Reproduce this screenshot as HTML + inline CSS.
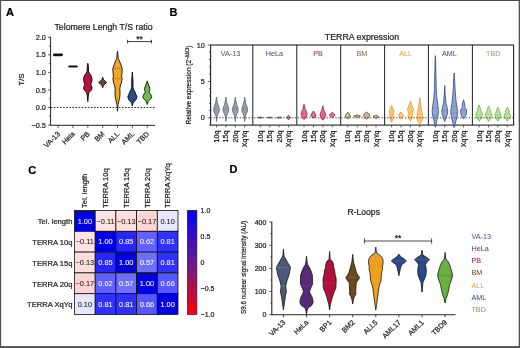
<!DOCTYPE html><html><head><meta charset="utf-8"><style>html,body{margin:0;padding:0;background:#fff;}svg{display:block;will-change:transform;}text{font-family:"Liberation Sans", sans-serif;}</style></head><body>
<svg width="520" height="348" viewBox="0 0 520 348">
<rect x="0" y="0" width="520" height="348" fill="#fff"/>
<rect x="0" y="0" width="1.1" height="348" fill="#505050"/><rect x="0" y="0" width="520" height="1.0" fill="#505050"/><rect x="518.7" y="0" width="1.3" height="348" fill="#505050"/><rect x="0" y="346.1" width="520" height="1.9" fill="#505050"/>
<text x="6.0" y="15.6" font-size="11" fill="#000" text-anchor="start" font-weight="bold"  stroke="#000" stroke-width="0.22">A</text>
<text x="169.4" y="15.9" font-size="11" fill="#000" text-anchor="start" font-weight="bold"  stroke="#000" stroke-width="0.22">B</text>
<text x="28.3" y="173.6" font-size="11" fill="#000" text-anchor="start" font-weight="bold"  stroke="#000" stroke-width="0.22">C</text>
<text x="229.4" y="173.3" font-size="11" fill="#000" text-anchor="start" font-weight="bold"  stroke="#000" stroke-width="0.22">D</text>
<text x="103.5" y="30.2" font-size="8.75" fill="#222" text-anchor="middle" font-weight="normal"  stroke="#222" stroke-width="0.22">Telomere Lengh T/S ratio</text>
<line x1="50.6" y1="36.8" x2="50.6" y2="125.6" stroke="#222" stroke-width="1"/>
<line x1="50.6" y1="125.3" x2="155" y2="125.3" stroke="#222" stroke-width="1"/>
<line x1="48.1" y1="37.30" x2="50.6" y2="37.30" stroke="#222" stroke-width="0.8"/>
<text x="45.9" y="39.9" font-size="7.3" fill="#222" text-anchor="end" font-weight="normal"  stroke="#222" stroke-width="0.22">2.0</text>
<line x1="48.1" y1="54.85" x2="50.6" y2="54.85" stroke="#222" stroke-width="0.8"/>
<text x="45.9" y="57.449999999999996" font-size="7.3" fill="#222" text-anchor="end" font-weight="normal"  stroke="#222" stroke-width="0.22">1.5</text>
<line x1="48.1" y1="72.40" x2="50.6" y2="72.40" stroke="#222" stroke-width="0.8"/>
<text x="45.9" y="75.0" font-size="7.3" fill="#222" text-anchor="end" font-weight="normal"  stroke="#222" stroke-width="0.22">1.0</text>
<line x1="48.1" y1="89.95" x2="50.6" y2="89.95" stroke="#222" stroke-width="0.8"/>
<text x="45.9" y="92.55" font-size="7.3" fill="#222" text-anchor="end" font-weight="normal"  stroke="#222" stroke-width="0.22">0.5</text>
<line x1="48.1" y1="107.50" x2="50.6" y2="107.50" stroke="#222" stroke-width="0.8"/>
<text x="45.9" y="110.1" font-size="7.3" fill="#222" text-anchor="end" font-weight="normal"  stroke="#222" stroke-width="0.22">0.0</text>
<line x1="48.1" y1="125.05" x2="50.6" y2="125.05" stroke="#222" stroke-width="0.8"/>
<text x="45.9" y="127.64999999999999" font-size="7.3" fill="#222" text-anchor="end" font-weight="normal"  stroke="#222" stroke-width="0.22">&#8722;0.5</text>
<line x1="49.1" y1="46.07" x2="50.6" y2="46.07" stroke="#222" stroke-width="0.7"/>
<line x1="49.1" y1="63.62" x2="50.6" y2="63.62" stroke="#222" stroke-width="0.7"/>
<line x1="49.1" y1="81.17" x2="50.6" y2="81.17" stroke="#222" stroke-width="0.7"/>
<line x1="49.1" y1="98.72" x2="50.6" y2="98.72" stroke="#222" stroke-width="0.7"/>
<line x1="49.1" y1="116.28" x2="50.6" y2="116.28" stroke="#222" stroke-width="0.7"/>
<text x="0" y="0" font-size="8" fill="#222" text-anchor="middle" transform="translate(23.6,79.6) rotate(-90)" stroke="#222" stroke-width="0.22">T/S</text>
<line x1="50.6" y1="107.50" x2="155" y2="107.50" stroke="#222" stroke-width="0.9" stroke-dasharray="1.7,1.4"/>
<line x1="58.10" y1="125.3" x2="58.10" y2="127.8" stroke="#222" stroke-width="0.8"/>
<text x="0" y="0" font-size="7.2" fill="#222" text-anchor="end" transform="translate(60.50,134.5) rotate(-45)" stroke="#222" stroke-width="0.22">VA-13</text>
<line x1="72.95" y1="125.3" x2="72.95" y2="127.8" stroke="#222" stroke-width="0.8"/>
<text x="0" y="0" font-size="7.2" fill="#222" text-anchor="end" transform="translate(75.35,134.5) rotate(-45)" stroke="#222" stroke-width="0.22">Hela</text>
<line x1="87.80" y1="125.3" x2="87.80" y2="127.8" stroke="#222" stroke-width="0.8"/>
<text x="0" y="0" font-size="7.2" fill="#222" text-anchor="end" transform="translate(90.20,134.5) rotate(-45)" stroke="#222" stroke-width="0.22">PB</text>
<line x1="102.65" y1="125.3" x2="102.65" y2="127.8" stroke="#222" stroke-width="0.8"/>
<text x="0" y="0" font-size="7.2" fill="#222" text-anchor="end" transform="translate(105.05,134.5) rotate(-45)" stroke="#222" stroke-width="0.22">BM</text>
<line x1="117.50" y1="125.3" x2="117.50" y2="127.8" stroke="#222" stroke-width="0.8"/>
<text x="0" y="0" font-size="7.2" fill="#222" text-anchor="end" transform="translate(119.90,134.5) rotate(-45)" stroke="#222" stroke-width="0.22">ALL</text>
<line x1="132.35" y1="125.3" x2="132.35" y2="127.8" stroke="#222" stroke-width="0.8"/>
<text x="0" y="0" font-size="7.2" fill="#222" text-anchor="end" transform="translate(134.75,134.5) rotate(-45)" stroke="#222" stroke-width="0.22">AML</text>
<line x1="147.20" y1="125.3" x2="147.20" y2="127.8" stroke="#222" stroke-width="0.8"/>
<text x="0" y="0" font-size="7.2" fill="#222" text-anchor="end" transform="translate(149.60,134.5) rotate(-45)" stroke="#222" stroke-width="0.22">TBD</text>
<rect x="53" y="53.5" width="9.9" height="2.7" rx="1.3" fill="#151515"/>
<rect x="68.2" y="65.4" width="9.6" height="2.2" rx="1.1" fill="#151515"/>
<path d="M87.80,63.30 L88.30,66.00 L88.60,72.00 L90.00,74.00 L91.30,76.00 L92.10,79.20 L91.60,82.00 L90.80,84.50 L92.10,87.80 L91.40,90.00 L89.00,92.40 L88.40,95.00 L87.80,101.60 L87.80,101.60 L87.20,95.00 L86.60,92.40 L84.20,90.00 L83.50,87.80 L84.80,84.50 L84.00,82.00 L83.50,79.20 L84.30,76.00 L85.60,74.00 L87.00,72.00 L87.30,66.00 L87.80,63.30Z" fill="#b5123c" stroke="#1a0508" stroke-width="0.95" stroke-linejoin="round"/>
<path d="M102.65,77.20 L103.45,79.50 L104.85,81.00 L106.65,82.50 L104.85,84.00 L103.45,85.50 L102.65,87.80 L102.65,87.80 L101.85,85.50 L100.45,84.00 L98.65,82.50 L100.45,81.00 L101.85,79.50 L102.65,77.20Z" fill="#5e4c2c" stroke="#151008" stroke-width="0.95" stroke-linejoin="round"/>
<path d="M117.50,51.00 L118.00,55.00 L118.20,58.50 L119.50,61.00 L120.90,65.00 L122.20,68.70 L122.00,72.00 L121.60,76.40 L122.10,79.30 L121.30,83.00 L120.30,86.00 L119.80,88.80 L120.00,92.00 L119.90,96.00 L119.10,100.00 L118.00,104.80 L117.50,111.20 L117.50,111.20 L117.00,104.80 L115.90,100.00 L115.10,96.00 L115.00,92.00 L115.20,88.80 L114.70,86.00 L113.70,83.00 L112.90,79.30 L113.40,76.40 L113.00,72.00 L112.80,68.70 L114.10,65.00 L115.50,61.00 L116.80,58.50 L117.00,55.00 L117.50,51.00Z" fill="#f2a52a" stroke="#2a1a08" stroke-width="0.95" stroke-linejoin="round"/>
<line x1="113.00" y1="68.3" x2="122.00" y2="68.3" stroke="#3a2a10" stroke-width="0.5" stroke-dasharray="1,1"/>
<line x1="113.00" y1="78.8" x2="122.00" y2="78.8" stroke="#3a2a10" stroke-width="0.5" stroke-dasharray="1,1"/>
<path d="M132.35,72.00 L132.95,80.00 L133.05,87.80 L133.85,90.00 L134.95,92.00 L135.95,94.50 L136.85,96.50 L136.35,99.00 L135.35,100.50 L133.55,102.00 L132.95,103.50 L132.35,105.90 L132.35,105.90 L131.75,103.50 L131.15,102.00 L129.35,100.50 L128.35,99.00 L127.85,96.50 L128.75,94.50 L129.75,92.00 L130.85,90.00 L131.65,87.80 L131.75,80.00 L132.35,72.00Z" fill="#2d4a86" stroke="#0a1020" stroke-width="0.95" stroke-linejoin="round"/>
<path d="M147.20,80.90 L147.70,83.00 L148.70,85.00 L149.80,88.40 L149.60,90.50 L149.20,92.40 L150.40,94.00 L151.70,96.40 L151.00,98.50 L149.00,100.50 L147.90,101.80 L147.20,104.50 L147.20,104.50 L146.50,101.80 L145.40,100.50 L143.40,98.50 L142.70,96.40 L144.00,94.00 L145.20,92.40 L144.80,90.50 L144.60,88.40 L145.70,85.00 L146.70,83.00 L147.20,80.90Z" fill="#72b84e" stroke="#10200a" stroke-width="0.95" stroke-linejoin="round"/>
<path d="M127.6,39.8 V43.4 M127.6,41.6 H151.4 M151.4,39.8 V43.4" stroke="#222" stroke-width="0.9" fill="none"/>
<text x="139.6" y="41.6" font-size="8.5" fill="#222" text-anchor="middle" font-weight="normal"  stroke="#222" stroke-width="0.22">**</text>
<text x="362" y="39.6" font-size="8.8" fill="#222" text-anchor="middle" font-weight="normal"  stroke="#222" stroke-width="0.22">TERRA expression</text>
<rect x="210.6" y="45" width="303.0" height="80.1" fill="none" stroke="#222" stroke-width="1.1"/>
<line x1="252.8" y1="45" x2="252.8" y2="125.1" stroke="#222" stroke-width="1"/>
<line x1="296.8" y1="45" x2="296.8" y2="125.1" stroke="#222" stroke-width="1"/>
<line x1="340.7" y1="45" x2="340.7" y2="125.1" stroke="#222" stroke-width="1"/>
<line x1="384.6" y1="45" x2="384.6" y2="125.1" stroke="#222" stroke-width="1"/>
<line x1="428.4" y1="45" x2="428.4" y2="125.1" stroke="#222" stroke-width="1"/>
<line x1="472.4" y1="45" x2="472.4" y2="125.1" stroke="#222" stroke-width="1"/>
<line x1="209.00" y1="125.08" x2="210.6" y2="125.08" stroke="#222" stroke-width="0.7"/>
<line x1="207.80" y1="117.80" x2="210.6" y2="117.80" stroke="#222" stroke-width="0.7"/>
<line x1="209.00" y1="110.52" x2="210.6" y2="110.52" stroke="#222" stroke-width="0.7"/>
<line x1="209.00" y1="103.24" x2="210.6" y2="103.24" stroke="#222" stroke-width="0.7"/>
<line x1="209.00" y1="95.96" x2="210.6" y2="95.96" stroke="#222" stroke-width="0.7"/>
<line x1="209.00" y1="88.68" x2="210.6" y2="88.68" stroke="#222" stroke-width="0.7"/>
<line x1="207.80" y1="81.40" x2="210.6" y2="81.40" stroke="#222" stroke-width="0.7"/>
<line x1="209.00" y1="74.12" x2="210.6" y2="74.12" stroke="#222" stroke-width="0.7"/>
<line x1="209.00" y1="66.84" x2="210.6" y2="66.84" stroke="#222" stroke-width="0.7"/>
<line x1="209.00" y1="59.56" x2="210.6" y2="59.56" stroke="#222" stroke-width="0.7"/>
<line x1="209.00" y1="52.28" x2="210.6" y2="52.28" stroke="#222" stroke-width="0.7"/>
<line x1="207.80" y1="45.00" x2="210.6" y2="45.00" stroke="#222" stroke-width="0.7"/>
<text x="204.8" y="47.5" font-size="7.2" fill="#222" text-anchor="end" font-weight="normal"  stroke="#222" stroke-width="0.22">10</text>
<text x="204.8" y="83.9" font-size="7.2" fill="#222" text-anchor="end" font-weight="normal"  stroke="#222" stroke-width="0.22">5</text>
<text x="204.8" y="120.3" font-size="7.2" fill="#222" text-anchor="end" font-weight="normal"  stroke="#222" stroke-width="0.22">0</text>
<text x="0" y="0" font-size="7.3" fill="#222" text-anchor="start" textLength="79" lengthAdjust="spacingAndGlyphs" transform="translate(191.0,124.6) rotate(-90)" stroke="#222" stroke-width="0.22">Relative expression (2<tspan font-size="4.6" dy="-2.4">&#8722;&#916;&#916;Ct</tspan><tspan dy="2.4">)</tspan></text>
<text x="230.6" y="55.9" font-size="7.2" fill="#606060" text-anchor="middle" font-weight="normal" stroke="#606060" stroke-width="0.06">VA-13</text>
<line x1="216.50" y1="125.1" x2="216.50" y2="127.4" stroke="#222" stroke-width="0.7"/>
<text x="0" y="0" font-size="7.2" fill="#222" text-anchor="end" textLength="12.0" lengthAdjust="spacingAndGlyphs" transform="translate(219.00,130.6) rotate(-90)" stroke="#222" stroke-width="0.22">10q</text>
<line x1="225.90" y1="125.1" x2="225.90" y2="127.4" stroke="#222" stroke-width="0.7"/>
<text x="0" y="0" font-size="7.2" fill="#222" text-anchor="end" textLength="12.0" lengthAdjust="spacingAndGlyphs" transform="translate(228.40,130.6) rotate(-90)" stroke="#222" stroke-width="0.22">15q</text>
<line x1="235.30" y1="125.1" x2="235.30" y2="127.4" stroke="#222" stroke-width="0.7"/>
<text x="0" y="0" font-size="7.2" fill="#222" text-anchor="end" textLength="12.0" lengthAdjust="spacingAndGlyphs" transform="translate(237.80,130.6) rotate(-90)" stroke="#222" stroke-width="0.22">20q</text>
<line x1="244.70" y1="125.1" x2="244.70" y2="127.4" stroke="#222" stroke-width="0.7"/>
<text x="0" y="0" font-size="7.2" fill="#222" text-anchor="end" textLength="16.6" lengthAdjust="spacingAndGlyphs" transform="translate(247.20,130.6) rotate(-90)" stroke="#222" stroke-width="0.22">XqYq</text>
<text x="274.37" y="55.9" font-size="7.2" fill="#5b3a8e" text-anchor="middle" font-weight="normal" stroke="#5b3a8e" stroke-width="0.06">HeLa</text>
<line x1="260.27" y1="125.1" x2="260.27" y2="127.4" stroke="#222" stroke-width="0.7"/>
<text x="0" y="0" font-size="7.2" fill="#222" text-anchor="end" textLength="12.0" lengthAdjust="spacingAndGlyphs" transform="translate(262.77,130.6) rotate(-90)" stroke="#222" stroke-width="0.22">10q</text>
<line x1="269.67" y1="125.1" x2="269.67" y2="127.4" stroke="#222" stroke-width="0.7"/>
<text x="0" y="0" font-size="7.2" fill="#222" text-anchor="end" textLength="12.0" lengthAdjust="spacingAndGlyphs" transform="translate(272.17,130.6) rotate(-90)" stroke="#222" stroke-width="0.22">15q</text>
<line x1="279.07" y1="125.1" x2="279.07" y2="127.4" stroke="#222" stroke-width="0.7"/>
<text x="0" y="0" font-size="7.2" fill="#222" text-anchor="end" textLength="12.0" lengthAdjust="spacingAndGlyphs" transform="translate(281.57,130.6) rotate(-90)" stroke="#222" stroke-width="0.22">20q</text>
<line x1="288.47" y1="125.1" x2="288.47" y2="127.4" stroke="#222" stroke-width="0.7"/>
<text x="0" y="0" font-size="7.2" fill="#222" text-anchor="end" textLength="16.6" lengthAdjust="spacingAndGlyphs" transform="translate(290.97,130.6) rotate(-90)" stroke="#222" stroke-width="0.22">XqYq</text>
<text x="318.14" y="55.9" font-size="7.2" fill="#c01a5c" text-anchor="middle" font-weight="normal" stroke="#c01a5c" stroke-width="0.06">PB</text>
<line x1="304.04" y1="125.1" x2="304.04" y2="127.4" stroke="#222" stroke-width="0.7"/>
<text x="0" y="0" font-size="7.2" fill="#222" text-anchor="end" textLength="12.0" lengthAdjust="spacingAndGlyphs" transform="translate(306.54,130.6) rotate(-90)" stroke="#222" stroke-width="0.22">10q</text>
<line x1="313.44" y1="125.1" x2="313.44" y2="127.4" stroke="#222" stroke-width="0.7"/>
<text x="0" y="0" font-size="7.2" fill="#222" text-anchor="end" textLength="12.0" lengthAdjust="spacingAndGlyphs" transform="translate(315.94,130.6) rotate(-90)" stroke="#222" stroke-width="0.22">15q</text>
<line x1="322.84" y1="125.1" x2="322.84" y2="127.4" stroke="#222" stroke-width="0.7"/>
<text x="0" y="0" font-size="7.2" fill="#222" text-anchor="end" textLength="12.0" lengthAdjust="spacingAndGlyphs" transform="translate(325.34,130.6) rotate(-90)" stroke="#222" stroke-width="0.22">20q</text>
<line x1="332.24" y1="125.1" x2="332.24" y2="127.4" stroke="#222" stroke-width="0.7"/>
<text x="0" y="0" font-size="7.2" fill="#222" text-anchor="end" textLength="16.6" lengthAdjust="spacingAndGlyphs" transform="translate(334.74,130.6) rotate(-90)" stroke="#222" stroke-width="0.22">XqYq</text>
<text x="361.90999999999997" y="55.9" font-size="7.2" fill="#8a6a3a" text-anchor="middle" font-weight="normal" stroke="#8a6a3a" stroke-width="0.06">BM</text>
<line x1="347.81" y1="125.1" x2="347.81" y2="127.4" stroke="#222" stroke-width="0.7"/>
<text x="0" y="0" font-size="7.2" fill="#222" text-anchor="end" textLength="12.0" lengthAdjust="spacingAndGlyphs" transform="translate(350.31,130.6) rotate(-90)" stroke="#222" stroke-width="0.22">10q</text>
<line x1="357.21" y1="125.1" x2="357.21" y2="127.4" stroke="#222" stroke-width="0.7"/>
<text x="0" y="0" font-size="7.2" fill="#222" text-anchor="end" textLength="12.0" lengthAdjust="spacingAndGlyphs" transform="translate(359.71,130.6) rotate(-90)" stroke="#222" stroke-width="0.22">15q</text>
<line x1="366.61" y1="125.1" x2="366.61" y2="127.4" stroke="#222" stroke-width="0.7"/>
<text x="0" y="0" font-size="7.2" fill="#222" text-anchor="end" textLength="12.0" lengthAdjust="spacingAndGlyphs" transform="translate(369.11,130.6) rotate(-90)" stroke="#222" stroke-width="0.22">20q</text>
<line x1="376.01" y1="125.1" x2="376.01" y2="127.4" stroke="#222" stroke-width="0.7"/>
<text x="0" y="0" font-size="7.2" fill="#222" text-anchor="end" textLength="16.6" lengthAdjust="spacingAndGlyphs" transform="translate(378.51,130.6) rotate(-90)" stroke="#222" stroke-width="0.22">XqYq</text>
<text x="405.68" y="55.9" font-size="7.2" fill="#f0a030" text-anchor="middle" font-weight="normal" stroke="#f0a030" stroke-width="0.06">ALL</text>
<line x1="391.58" y1="125.1" x2="391.58" y2="127.4" stroke="#222" stroke-width="0.7"/>
<text x="0" y="0" font-size="7.2" fill="#222" text-anchor="end" textLength="12.0" lengthAdjust="spacingAndGlyphs" transform="translate(394.08,130.6) rotate(-90)" stroke="#222" stroke-width="0.22">10q</text>
<line x1="400.98" y1="125.1" x2="400.98" y2="127.4" stroke="#222" stroke-width="0.7"/>
<text x="0" y="0" font-size="7.2" fill="#222" text-anchor="end" textLength="12.0" lengthAdjust="spacingAndGlyphs" transform="translate(403.48,130.6) rotate(-90)" stroke="#222" stroke-width="0.22">15q</text>
<line x1="410.38" y1="125.1" x2="410.38" y2="127.4" stroke="#222" stroke-width="0.7"/>
<text x="0" y="0" font-size="7.2" fill="#222" text-anchor="end" textLength="12.0" lengthAdjust="spacingAndGlyphs" transform="translate(412.88,130.6) rotate(-90)" stroke="#222" stroke-width="0.22">20q</text>
<line x1="419.78" y1="125.1" x2="419.78" y2="127.4" stroke="#222" stroke-width="0.7"/>
<text x="0" y="0" font-size="7.2" fill="#222" text-anchor="end" textLength="16.6" lengthAdjust="spacingAndGlyphs" transform="translate(422.28,130.6) rotate(-90)" stroke="#222" stroke-width="0.22">XqYq</text>
<text x="449.45000000000005" y="55.9" font-size="7.2" fill="#3a5a9a" text-anchor="middle" font-weight="normal" stroke="#3a5a9a" stroke-width="0.06">AML</text>
<line x1="435.35" y1="125.1" x2="435.35" y2="127.4" stroke="#222" stroke-width="0.7"/>
<text x="0" y="0" font-size="7.2" fill="#222" text-anchor="end" textLength="12.0" lengthAdjust="spacingAndGlyphs" transform="translate(437.85,130.6) rotate(-90)" stroke="#222" stroke-width="0.22">10q</text>
<line x1="444.75" y1="125.1" x2="444.75" y2="127.4" stroke="#222" stroke-width="0.7"/>
<text x="0" y="0" font-size="7.2" fill="#222" text-anchor="end" textLength="12.0" lengthAdjust="spacingAndGlyphs" transform="translate(447.25,130.6) rotate(-90)" stroke="#222" stroke-width="0.22">15q</text>
<line x1="454.15" y1="125.1" x2="454.15" y2="127.4" stroke="#222" stroke-width="0.7"/>
<text x="0" y="0" font-size="7.2" fill="#222" text-anchor="end" textLength="12.0" lengthAdjust="spacingAndGlyphs" transform="translate(456.65,130.6) rotate(-90)" stroke="#222" stroke-width="0.22">20q</text>
<line x1="463.55" y1="125.1" x2="463.55" y2="127.4" stroke="#222" stroke-width="0.7"/>
<text x="0" y="0" font-size="7.2" fill="#222" text-anchor="end" textLength="16.6" lengthAdjust="spacingAndGlyphs" transform="translate(466.05,130.6) rotate(-90)" stroke="#222" stroke-width="0.22">XqYq</text>
<text x="493.22" y="55.9" font-size="7.2" fill="#7ab860" text-anchor="middle" font-weight="normal" stroke="#7ab860" stroke-width="0.06">TBD</text>
<line x1="479.12" y1="125.1" x2="479.12" y2="127.4" stroke="#222" stroke-width="0.7"/>
<text x="0" y="0" font-size="7.2" fill="#222" text-anchor="end" textLength="12.0" lengthAdjust="spacingAndGlyphs" transform="translate(481.62,130.6) rotate(-90)" stroke="#222" stroke-width="0.22">10q</text>
<line x1="488.52" y1="125.1" x2="488.52" y2="127.4" stroke="#222" stroke-width="0.7"/>
<text x="0" y="0" font-size="7.2" fill="#222" text-anchor="end" textLength="12.0" lengthAdjust="spacingAndGlyphs" transform="translate(491.02,130.6) rotate(-90)" stroke="#222" stroke-width="0.22">15q</text>
<line x1="497.92" y1="125.1" x2="497.92" y2="127.4" stroke="#222" stroke-width="0.7"/>
<text x="0" y="0" font-size="7.2" fill="#222" text-anchor="end" textLength="12.0" lengthAdjust="spacingAndGlyphs" transform="translate(500.42,130.6) rotate(-90)" stroke="#222" stroke-width="0.22">20q</text>
<line x1="507.32" y1="125.1" x2="507.32" y2="127.4" stroke="#222" stroke-width="0.7"/>
<text x="0" y="0" font-size="7.2" fill="#222" text-anchor="end" textLength="16.6" lengthAdjust="spacingAndGlyphs" transform="translate(509.82,130.6) rotate(-90)" stroke="#222" stroke-width="0.22">XqYq</text>
<path d="M216.50,97.00 L216.90,100.00 L217.70,104.00 L218.60,106.00 L219.40,109.30 L219.00,112.00 L218.00,114.00 L217.10,116.00 L216.50,121.50 L216.50,121.50 L215.90,116.00 L215.00,114.00 L214.00,112.00 L213.60,109.30 L214.40,106.00 L215.30,104.00 L216.10,100.00 L216.50,97.00Z" fill="#959cab" stroke="#5a6070" stroke-width="0.75" stroke-linejoin="round"/>
<line x1="214.00" y1="109" x2="219.00" y2="109" stroke="#5a6070" stroke-width="0.45" stroke-dasharray="0.8,0.8"/>
<path d="M225.90,97.00 L226.30,100.00 L227.10,104.00 L228.00,106.00 L228.80,109.30 L228.40,112.00 L227.40,114.00 L226.50,116.00 L225.90,121.50 L225.90,121.50 L225.30,116.00 L224.40,114.00 L223.40,112.00 L223.00,109.30 L223.80,106.00 L224.70,104.00 L225.50,100.00 L225.90,97.00Z" fill="#959cab" stroke="#5a6070" stroke-width="0.75" stroke-linejoin="round"/>
<line x1="223.40" y1="109" x2="228.40" y2="109" stroke="#5a6070" stroke-width="0.45" stroke-dasharray="0.8,0.8"/>
<path d="M235.30,97.00 L235.70,100.00 L236.50,104.00 L237.40,106.00 L238.20,109.30 L237.80,112.00 L236.80,114.00 L235.90,116.00 L235.30,121.50 L235.30,121.50 L234.70,116.00 L233.80,114.00 L232.80,112.00 L232.40,109.30 L233.20,106.00 L234.10,104.00 L234.90,100.00 L235.30,97.00Z" fill="#959cab" stroke="#5a6070" stroke-width="0.75" stroke-linejoin="round"/>
<line x1="232.80" y1="109" x2="237.80" y2="109" stroke="#5a6070" stroke-width="0.45" stroke-dasharray="0.8,0.8"/>
<path d="M244.70,97.00 L245.10,100.00 L245.90,104.00 L246.80,106.00 L247.60,109.30 L247.20,112.00 L246.20,114.00 L245.30,116.00 L244.70,121.50 L244.70,121.50 L244.10,116.00 L243.20,114.00 L242.20,112.00 L241.80,109.30 L242.60,106.00 L243.50,104.00 L244.30,100.00 L244.70,97.00Z" fill="#959cab" stroke="#5a6070" stroke-width="0.75" stroke-linejoin="round"/>
<line x1="242.20" y1="109" x2="247.20" y2="109" stroke="#5a6070" stroke-width="0.45" stroke-dasharray="0.8,0.8"/>
<ellipse cx="260.27" cy="117.6" rx="2.4" ry="0.5" fill="#7a68a0" stroke="#4a2a7e" stroke-width="0.6"/>
<ellipse cx="269.67" cy="117.6" rx="2.4" ry="0.5" fill="#7a68a0" stroke="#4a2a7e" stroke-width="0.6"/>
<ellipse cx="279.07" cy="117.6" rx="2.4" ry="0.5" fill="#7a68a0" stroke="#4a2a7e" stroke-width="0.6"/>
<path d="M288.47,115.20 L290.47,117.50 L288.47,119.80 L288.47,119.80 L286.47,117.50 L288.47,115.20Z" fill="#9a88c0" stroke="#4a2a7e" stroke-width="0.75" stroke-linejoin="round"/>
<path d="M304.04,104.30 L304.54,106.00 L304.74,108.00 L305.54,110.00 L306.54,111.50 L306.94,113.60 L306.64,116.00 L305.54,118.00 L304.04,119.50 L304.04,119.50 L302.54,118.00 L301.44,116.00 L301.14,113.60 L301.54,111.50 L302.54,110.00 L303.34,108.00 L303.54,106.00 L304.04,104.30Z" fill="#e46c92" stroke="#9a1242" stroke-width="0.75" stroke-linejoin="round"/>
<line x1="301.74" y1="113.6" x2="306.34" y2="113.6" stroke="#9a1242" stroke-width="0.45" stroke-dasharray="0.8,0.8"/>
<path d="M313.44,110.90 L314.44,112.50 L315.44,114.00 L316.14,115.80 L314.94,117.20 L313.44,118.00 L313.44,118.00 L311.94,117.20 L310.74,115.80 L311.44,114.00 L312.44,112.50 L313.44,110.90Z" fill="#e46c92" stroke="#9a1242" stroke-width="0.75" stroke-linejoin="round"/>
<path d="M322.84,105.90 L323.44,108.00 L323.84,110.00 L324.84,112.00 L325.74,114.60 L325.04,117.00 L323.84,119.00 L322.84,120.20 L322.84,120.20 L321.84,119.00 L320.64,117.00 L319.94,114.60 L320.84,112.00 L321.84,110.00 L322.24,108.00 L322.84,105.90Z" fill="#e46c92" stroke="#9a1242" stroke-width="0.75" stroke-linejoin="round"/>
<line x1="320.54" y1="114.6" x2="325.14" y2="114.6" stroke="#9a1242" stroke-width="0.45" stroke-dasharray="0.8,0.8"/>
<path d="M332.24,112.30 L335.24,115.00 L332.24,117.70 L332.24,117.70 L329.24,115.00 L332.24,112.30Z" fill="#e46c92" stroke="#9a1242" stroke-width="0.75" stroke-linejoin="round"/>
<path d="M347.81,112.30 L350.01,115.00 L350.31,117.00 L347.81,118.70 L347.81,118.70 L345.31,117.00 L345.61,115.00 L347.81,112.30Z" fill="#cbb98e" stroke="#5a4a30" stroke-width="0.75" stroke-linejoin="round"/>
<path d="M357.21,114.80 L360.61,116.20 L357.21,117.60 L357.21,117.60 L353.81,116.20 L357.21,114.80Z" fill="#cbb98e" stroke="#5a4a30" stroke-width="0.75" stroke-linejoin="round"/>
<path d="M366.61,112.00 L369.11,114.00 L369.61,115.50 L369.11,117.50 L366.61,119.20 L366.61,119.20 L364.11,117.50 L363.61,115.50 L364.11,114.00 L366.61,112.00Z" fill="#cbb98e" stroke="#5a4a30" stroke-width="0.75" stroke-linejoin="round"/>
<path d="M376.01,115.00 L379.01,116.60 L376.01,118.50 L376.01,118.50 L373.01,116.60 L376.01,115.00Z" fill="#cbb98e" stroke="#5a4a30" stroke-width="0.75" stroke-linejoin="round"/>
<path d="M391.58,105.50 L393.08,109.00 L394.08,111.80 L393.08,114.00 L394.08,116.00 L393.08,119.00 L391.58,122.20 L391.58,122.20 L390.08,119.00 L389.08,116.00 L390.08,114.00 L389.08,111.80 L390.08,109.00 L391.58,105.50Z" fill="#f8c87a" stroke="#e8982e" stroke-width="0.75" stroke-linejoin="round"/>
<line x1="389.58" y1="114" x2="393.58" y2="114" stroke="#e8982e" stroke-width="0.45" stroke-dasharray="0.8,0.8"/>
<path d="M400.98,112.00 L402.98,114.00 L403.48,115.50 L402.98,117.00 L400.98,118.70 L400.98,118.70 L398.98,117.00 L398.48,115.50 L398.98,114.00 L400.98,112.00Z" fill="#f8c87a" stroke="#e8982e" stroke-width="0.75" stroke-linejoin="round"/>
<path d="M410.38,100.90 L411.38,104.00 L412.58,107.00 L413.38,109.50 L412.38,112.00 L412.18,113.50 L412.88,116.00 L411.88,118.00 L410.38,121.00 L410.38,121.00 L408.88,118.00 L407.88,116.00 L408.58,113.50 L408.38,112.00 L407.38,109.50 L408.18,107.00 L409.38,104.00 L410.38,100.90Z" fill="#f8c87a" stroke="#e8982e" stroke-width="0.75" stroke-linejoin="round"/>
<line x1="408.38" y1="113.5" x2="412.38" y2="113.5" stroke="#e8982e" stroke-width="0.45" stroke-dasharray="0.8,0.8"/>
<path d="M419.78,97.50 L420.18,100.00 L420.58,104.00 L421.08,107.00 L421.78,110.00 L422.28,114.00 L422.78,117.60 L422.28,120.00 L421.28,122.00 L419.78,123.90 L419.78,123.90 L418.28,122.00 L417.28,120.00 L416.78,117.60 L417.28,114.00 L417.78,110.00 L418.48,107.00 L418.98,104.00 L419.38,100.00 L419.78,97.50Z" fill="#f8c87a" stroke="#e8982e" stroke-width="0.75" stroke-linejoin="round"/>
<line x1="417.58" y1="114" x2="421.98" y2="114" stroke="#e8982e" stroke-width="0.45" stroke-dasharray="0.8,0.8"/>
<path d="M435.35,55.70 L435.65,60.00 L435.95,75.00 L436.35,90.00 L436.85,98.00 L437.55,103.00 L438.15,107.00 L438.55,111.30 L437.95,116.00 L436.85,120.00 L436.05,124.00 L435.35,127.00 L435.35,127.00 L434.65,124.00 L433.85,120.00 L432.75,116.00 L432.15,111.30 L432.55,107.00 L433.15,103.00 L433.85,98.00 L434.35,90.00 L434.75,75.00 L435.05,60.00 L435.35,55.70Z" fill="#90a5d0" stroke="#2a4684" stroke-width="0.75" stroke-linejoin="round"/>
<line x1="432.75" y1="108" x2="437.95" y2="108" stroke="#2a4684" stroke-width="0.45" stroke-dasharray="0.8,0.8"/>
<line x1="433.05" y1="115" x2="437.65" y2="115" stroke="#2a4684" stroke-width="0.45" stroke-dasharray="0.8,0.8"/>
<path d="M444.75,85.60 L445.25,95.00 L445.75,100.00 L445.95,103.00 L446.75,106.00 L447.75,110.70 L447.35,114.00 L446.05,118.00 L444.75,121.60 L444.75,121.60 L443.45,118.00 L442.15,114.00 L441.75,110.70 L442.75,106.00 L443.55,103.00 L443.75,100.00 L444.25,95.00 L444.75,85.60Z" fill="#90a5d0" stroke="#2a4684" stroke-width="0.75" stroke-linejoin="round"/>
<line x1="442.25" y1="110.7" x2="447.25" y2="110.7" stroke="#2a4684" stroke-width="0.45" stroke-dasharray="0.8,0.8"/>
<path d="M454.15,73.00 L454.65,80.00 L455.15,90.00 L455.75,98.00 L456.45,104.00 L457.15,108.00 L457.65,111.80 L457.15,116.00 L456.15,120.00 L455.15,124.00 L454.15,127.40 L454.15,127.40 L453.15,124.00 L452.15,120.00 L451.15,116.00 L450.65,111.80 L451.15,108.00 L451.85,104.00 L452.55,98.00 L453.15,90.00 L453.65,80.00 L454.15,73.00Z" fill="#90a5d0" stroke="#2a4684" stroke-width="0.75" stroke-linejoin="round"/>
<line x1="451.65" y1="106" x2="456.65" y2="106" stroke="#2a4684" stroke-width="0.45" stroke-dasharray="0.8,0.8"/>
<line x1="451.35" y1="113" x2="456.95" y2="113" stroke="#2a4684" stroke-width="0.45" stroke-dasharray="0.8,0.8"/>
<path d="M463.55,99.80 L464.15,102.00 L464.75,104.00 L464.95,106.00 L464.75,107.50 L466.35,109.50 L466.55,112.00 L466.05,115.00 L465.05,117.00 L463.55,118.70 L463.55,118.70 L462.05,117.00 L461.05,115.00 L460.55,112.00 L460.75,109.50 L462.35,107.50 L462.15,106.00 L462.35,104.00 L462.95,102.00 L463.55,99.80Z" fill="#90a5d0" stroke="#2a4684" stroke-width="0.75" stroke-linejoin="round"/>
<line x1="461.15" y1="110" x2="465.95" y2="110" stroke="#2a4684" stroke-width="0.45" stroke-dasharray="0.8,0.8"/>
<path d="M479.12,105.00 L479.92,107.00 L480.62,108.80 L480.72,110.50 L481.42,111.90 L481.92,113.30 L482.52,114.60 L482.12,116.00 L481.72,117.80 L480.32,119.50 L479.12,121.30 L479.12,121.30 L477.92,119.50 L476.52,117.80 L476.12,116.00 L475.72,114.60 L476.32,113.30 L476.82,111.90 L477.52,110.50 L477.62,108.80 L478.32,107.00 L479.12,105.00Z" fill="#bce2a4" stroke="#64ac44" stroke-width="0.75" stroke-linejoin="round"/>
<line x1="476.72" y1="114.7" x2="481.52" y2="114.7" stroke="#64ac44" stroke-width="0.45" stroke-dasharray="0.8,0.8"/>
<path d="M488.52,106.10 L489.32,108.00 L489.92,109.50 L490.12,111.00 L490.82,112.40 L491.32,113.60 L491.92,114.80 L491.52,116.20 L491.12,117.80 L489.72,119.50 L488.52,121.50 L488.52,121.50 L487.32,119.50 L485.92,117.80 L485.52,116.20 L485.12,114.80 L485.72,113.60 L486.22,112.40 L486.92,111.00 L487.12,109.50 L487.72,108.00 L488.52,106.10Z" fill="#bce2a4" stroke="#64ac44" stroke-width="0.75" stroke-linejoin="round"/>
<line x1="486.12" y1="114.7" x2="490.92" y2="114.7" stroke="#64ac44" stroke-width="0.45" stroke-dasharray="0.8,0.8"/>
<path d="M497.92,107.20 L498.72,109.00 L499.42,110.50 L499.72,112.00 L500.42,113.50 L500.92,115.00 L500.52,117.00 L499.32,119.00 L497.92,121.00 L497.92,121.00 L496.52,119.00 L495.32,117.00 L494.92,115.00 L495.42,113.50 L496.12,112.00 L496.42,110.50 L497.12,109.00 L497.92,107.20Z" fill="#bce2a4" stroke="#64ac44" stroke-width="0.75" stroke-linejoin="round"/>
<line x1="495.92" y1="115" x2="499.92" y2="115" stroke="#64ac44" stroke-width="0.45" stroke-dasharray="0.8,0.8"/>
<path d="M507.32,107.20 L508.32,109.00 L509.32,111.00 L509.12,112.50 L509.72,114.00 L510.52,116.00 L509.92,118.00 L508.52,119.50 L507.32,121.00 L507.32,121.00 L506.12,119.50 L504.72,118.00 L504.12,116.00 L504.92,114.00 L505.52,112.50 L505.32,111.00 L506.32,109.00 L507.32,107.20Z" fill="#bce2a4" stroke="#64ac44" stroke-width="0.75" stroke-linejoin="round"/>
<line x1="505.32" y1="114" x2="509.32" y2="114" stroke="#64ac44" stroke-width="0.45" stroke-dasharray="0.8,0.8"/>
<line x1="210.6" y1="117.80" x2="513.6" y2="117.80" stroke="#4a4a4a" stroke-width="0.95" stroke-dasharray="1.4,1.5"/>
<rect x="74.50" y="210.50" width="20.70" height="20.80" fill="rgb(0,0,230)" stroke="#111" stroke-width="0.8"/>
<text x="84.85" y="223.50" font-size="7.4" fill="#ffffff" text-anchor="middle" font-weight="normal" stroke="#ffffff" stroke-width="0.06">1.00</text>
<rect x="95.20" y="210.50" width="20.70" height="20.80" fill="rgb(255,227,227)" stroke="#111" stroke-width="0.8"/>
<text x="105.55" y="223.50" font-size="7.4" fill="#222" text-anchor="middle" font-weight="normal" stroke="#222" stroke-width="0.06">&#8722;0.11</text>
<rect x="115.90" y="210.50" width="20.70" height="20.80" fill="rgb(255,222,222)" stroke="#111" stroke-width="0.8"/>
<text x="126.25" y="223.50" font-size="7.4" fill="#222" text-anchor="middle" font-weight="normal" stroke="#222" stroke-width="0.06">&#8722;0.13</text>
<rect x="136.60" y="210.50" width="20.70" height="20.80" fill="rgb(255,212,212)" stroke="#111" stroke-width="0.8"/>
<text x="146.95" y="223.50" font-size="7.4" fill="#222" text-anchor="middle" font-weight="normal" stroke="#222" stroke-width="0.06">&#8722;0.17</text>
<rect x="157.30" y="210.50" width="20.70" height="20.80" fill="rgb(230,230,255)" stroke="#111" stroke-width="0.8"/>
<text x="167.65" y="223.50" font-size="7.4" fill="#222" text-anchor="middle" font-weight="normal" stroke="#222" stroke-width="0.06">0.10</text>
<rect x="74.50" y="231.30" width="20.70" height="20.80" fill="rgb(255,227,227)" stroke="#111" stroke-width="0.8"/>
<text x="84.85" y="244.30" font-size="7.4" fill="#222" text-anchor="middle" font-weight="normal" stroke="#222" stroke-width="0.06">&#8722;0.11</text>
<rect x="95.20" y="231.30" width="20.70" height="20.80" fill="rgb(0,0,230)" stroke="#111" stroke-width="0.8"/>
<text x="105.55" y="244.30" font-size="7.4" fill="#ffffff" text-anchor="middle" font-weight="normal" stroke="#ffffff" stroke-width="0.06">1.00</text>
<rect x="115.90" y="231.30" width="20.70" height="20.80" fill="rgb(38,38,255)" stroke="#111" stroke-width="0.8"/>
<text x="126.25" y="244.30" font-size="7.4" fill="#ffffff" text-anchor="middle" font-weight="normal" stroke="#ffffff" stroke-width="0.06">0.85</text>
<rect x="136.60" y="231.30" width="20.70" height="20.80" fill="rgb(97,97,255)" stroke="#111" stroke-width="0.8"/>
<text x="146.95" y="244.30" font-size="7.4" fill="#ffffff" text-anchor="middle" font-weight="normal" stroke="#ffffff" stroke-width="0.06">0.62</text>
<rect x="157.30" y="231.30" width="20.70" height="20.80" fill="rgb(48,48,255)" stroke="#111" stroke-width="0.8"/>
<text x="167.65" y="244.30" font-size="7.4" fill="#ffffff" text-anchor="middle" font-weight="normal" stroke="#ffffff" stroke-width="0.06">0.81</text>
<rect x="74.50" y="252.10" width="20.70" height="20.80" fill="rgb(255,222,222)" stroke="#111" stroke-width="0.8"/>
<text x="84.85" y="265.10" font-size="7.4" fill="#222" text-anchor="middle" font-weight="normal" stroke="#222" stroke-width="0.06">&#8722;0.13</text>
<rect x="95.20" y="252.10" width="20.70" height="20.80" fill="rgb(38,38,255)" stroke="#111" stroke-width="0.8"/>
<text x="105.55" y="265.10" font-size="7.4" fill="#ffffff" text-anchor="middle" font-weight="normal" stroke="#ffffff" stroke-width="0.06">0.85</text>
<rect x="115.90" y="252.10" width="20.70" height="20.80" fill="rgb(0,0,230)" stroke="#111" stroke-width="0.8"/>
<text x="126.25" y="265.10" font-size="7.4" fill="#ffffff" text-anchor="middle" font-weight="normal" stroke="#ffffff" stroke-width="0.06">1.00</text>
<rect x="136.60" y="252.10" width="20.70" height="20.80" fill="rgb(110,110,255)" stroke="#111" stroke-width="0.8"/>
<text x="146.95" y="265.10" font-size="7.4" fill="#ffffff" text-anchor="middle" font-weight="normal" stroke="#ffffff" stroke-width="0.06">0.57</text>
<rect x="157.30" y="252.10" width="20.70" height="20.80" fill="rgb(48,48,255)" stroke="#111" stroke-width="0.8"/>
<text x="167.65" y="265.10" font-size="7.4" fill="#ffffff" text-anchor="middle" font-weight="normal" stroke="#ffffff" stroke-width="0.06">0.81</text>
<rect x="74.50" y="272.90" width="20.70" height="20.80" fill="rgb(255,212,212)" stroke="#111" stroke-width="0.8"/>
<text x="84.85" y="285.90" font-size="7.4" fill="#222" text-anchor="middle" font-weight="normal" stroke="#222" stroke-width="0.06">&#8722;0.17</text>
<rect x="95.20" y="272.90" width="20.70" height="20.80" fill="rgb(97,97,255)" stroke="#111" stroke-width="0.8"/>
<text x="105.55" y="285.90" font-size="7.4" fill="#ffffff" text-anchor="middle" font-weight="normal" stroke="#ffffff" stroke-width="0.06">0.62</text>
<rect x="115.90" y="272.90" width="20.70" height="20.80" fill="rgb(110,110,255)" stroke="#111" stroke-width="0.8"/>
<text x="126.25" y="285.90" font-size="7.4" fill="#ffffff" text-anchor="middle" font-weight="normal" stroke="#ffffff" stroke-width="0.06">0.57</text>
<rect x="136.60" y="272.90" width="20.70" height="20.80" fill="rgb(0,0,230)" stroke="#111" stroke-width="0.8"/>
<text x="146.95" y="285.90" font-size="7.4" fill="#ffffff" text-anchor="middle" font-weight="normal" stroke="#ffffff" stroke-width="0.06">1.00</text>
<rect x="157.30" y="272.90" width="20.70" height="20.80" fill="rgb(87,87,255)" stroke="#111" stroke-width="0.8"/>
<text x="167.65" y="285.90" font-size="7.4" fill="#ffffff" text-anchor="middle" font-weight="normal" stroke="#ffffff" stroke-width="0.06">0.66</text>
<rect x="74.50" y="293.70" width="20.70" height="20.80" fill="rgb(230,230,255)" stroke="#111" stroke-width="0.8"/>
<text x="84.85" y="306.70" font-size="7.4" fill="#222" text-anchor="middle" font-weight="normal" stroke="#222" stroke-width="0.06">0.10</text>
<rect x="95.20" y="293.70" width="20.70" height="20.80" fill="rgb(48,48,255)" stroke="#111" stroke-width="0.8"/>
<text x="105.55" y="306.70" font-size="7.4" fill="#ffffff" text-anchor="middle" font-weight="normal" stroke="#ffffff" stroke-width="0.06">0.81</text>
<rect x="115.90" y="293.70" width="20.70" height="20.80" fill="rgb(48,48,255)" stroke="#111" stroke-width="0.8"/>
<text x="126.25" y="306.70" font-size="7.4" fill="#ffffff" text-anchor="middle" font-weight="normal" stroke="#ffffff" stroke-width="0.06">0.81</text>
<rect x="136.60" y="293.70" width="20.70" height="20.80" fill="rgb(87,87,255)" stroke="#111" stroke-width="0.8"/>
<text x="146.95" y="306.70" font-size="7.4" fill="#ffffff" text-anchor="middle" font-weight="normal" stroke="#ffffff" stroke-width="0.06">0.66</text>
<rect x="157.30" y="293.70" width="20.70" height="20.80" fill="rgb(0,0,230)" stroke="#111" stroke-width="0.8"/>
<text x="167.65" y="306.70" font-size="7.4" fill="#ffffff" text-anchor="middle" font-weight="normal" stroke="#ffffff" stroke-width="0.06">1.00</text>
<text x="72.4" y="224.10" font-size="7.6" fill="#222" text-anchor="end" font-weight="normal"  stroke="#222" stroke-width="0.22">Tel. length</text>
<text x="0" y="0" font-size="7.5" fill="#222" text-anchor="start" transform="translate(87.45,208.0) rotate(-90)" stroke="#222" stroke-width="0.22">Tel. length</text>
<text x="72.4" y="244.90" font-size="7.6" fill="#222" text-anchor="end" font-weight="normal"  stroke="#222" stroke-width="0.22">TERRA 10q</text>
<text x="0" y="0" font-size="7.5" fill="#222" text-anchor="start" transform="translate(108.15,208.0) rotate(-90)" stroke="#222" stroke-width="0.22">TERRA 10q</text>
<text x="72.4" y="265.70" font-size="7.6" fill="#222" text-anchor="end" font-weight="normal"  stroke="#222" stroke-width="0.22">TERRA 15q</text>
<text x="0" y="0" font-size="7.5" fill="#222" text-anchor="start" transform="translate(128.85,208.0) rotate(-90)" stroke="#222" stroke-width="0.22">TERRA 15q</text>
<text x="72.4" y="286.50" font-size="7.6" fill="#222" text-anchor="end" font-weight="normal"  stroke="#222" stroke-width="0.22">TERRA 20q</text>
<text x="0" y="0" font-size="7.5" fill="#222" text-anchor="start" transform="translate(149.55,208.0) rotate(-90)" stroke="#222" stroke-width="0.22">TERRA 20q</text>
<text x="72.4" y="307.30" font-size="7.6" fill="#222" text-anchor="end" font-weight="normal"  stroke="#222" stroke-width="0.22">TERRA XqYq</text>
<text x="0" y="0" font-size="7.5" fill="#222" text-anchor="start" transform="translate(170.25,208.0) rotate(-90)" stroke="#222" stroke-width="0.22">TERRA XqYq</text>
<defs><linearGradient id="cb" x1="0" y1="0" x2="0" y2="1"><stop offset="0" stop-color="#0000ff"/><stop offset="0.5" stop-color="#6a1a8a"/><stop offset="1" stop-color="#ff0000"/></linearGradient></defs>
<rect x="187.3" y="210.3" width="9.6" height="104.3" fill="url(#cb)" stroke="#1a1a40" stroke-width="0.6"/>
<text x="200.6" y="213.1" font-size="7.0" fill="#222" text-anchor="start" font-weight="normal"  stroke="#222" stroke-width="0.22">1.0</text>
<text x="200.6" y="239.1" font-size="7.0" fill="#222" text-anchor="start" font-weight="normal"  stroke="#222" stroke-width="0.22">0.5</text>
<text x="200.6" y="265.0" font-size="7.0" fill="#222" text-anchor="start" font-weight="normal"  stroke="#222" stroke-width="0.22">0</text>
<text x="200.6" y="290.8" font-size="7.0" fill="#222" text-anchor="start" font-weight="normal"  stroke="#222" stroke-width="0.22">&#8722;0.5</text>
<text x="200.6" y="316.7" font-size="7.0" fill="#222" text-anchor="start" font-weight="normal"  stroke="#222" stroke-width="0.22">&#8722;1.0</text>
<text x="363.7" y="214.6" font-size="8.6" fill="#222" text-anchor="middle" font-weight="normal"  stroke="#222" stroke-width="0.22">R-Loops</text>
<line x1="271.8" y1="221.60" x2="271.8" y2="315.2" stroke="#222" stroke-width="1.1"/>
<line x1="271.8" y1="314.8" x2="455.5" y2="314.8" stroke="#222" stroke-width="1.1"/>
<line x1="269.20" y1="314.70" x2="271.8" y2="314.70" stroke="#222" stroke-width="0.7"/>
<text x="266.4" y="317.20" font-size="7.0" fill="#222" text-anchor="end" font-weight="normal"  stroke="#222" stroke-width="0.22">0</text>
<line x1="270.20" y1="303.12" x2="271.8" y2="303.12" stroke="#222" stroke-width="0.7"/>
<line x1="269.20" y1="291.55" x2="271.8" y2="291.55" stroke="#222" stroke-width="0.7"/>
<text x="266.4" y="294.05" font-size="7.0" fill="#222" text-anchor="end" font-weight="normal"  stroke="#222" stroke-width="0.22">100</text>
<line x1="270.20" y1="279.97" x2="271.8" y2="279.97" stroke="#222" stroke-width="0.7"/>
<line x1="269.20" y1="268.40" x2="271.8" y2="268.40" stroke="#222" stroke-width="0.7"/>
<text x="266.4" y="270.90" font-size="7.0" fill="#222" text-anchor="end" font-weight="normal"  stroke="#222" stroke-width="0.22">200</text>
<line x1="270.20" y1="256.82" x2="271.8" y2="256.82" stroke="#222" stroke-width="0.7"/>
<line x1="269.20" y1="245.25" x2="271.8" y2="245.25" stroke="#222" stroke-width="0.7"/>
<text x="266.4" y="247.75" font-size="7.0" fill="#222" text-anchor="end" font-weight="normal"  stroke="#222" stroke-width="0.22">300</text>
<line x1="270.20" y1="233.67" x2="271.8" y2="233.67" stroke="#222" stroke-width="0.7"/>
<line x1="269.20" y1="222.10" x2="271.8" y2="222.10" stroke="#222" stroke-width="0.7"/>
<text x="266.4" y="224.60" font-size="7.0" fill="#222" text-anchor="end" font-weight="normal"  stroke="#222" stroke-width="0.22">400</text>
<text x="0" y="0" font-size="7.8" fill="#222" text-anchor="start" textLength="93" lengthAdjust="spacingAndGlyphs" transform="translate(246.0,313.9) rotate(-90)" stroke="#222" stroke-width="0.22">S9.6 nuclear signal intensity (AU)</text>
<line x1="283.40" y1="314.8" x2="283.40" y2="317.3" stroke="#222" stroke-width="0.8"/>
<text x="0" y="0" font-size="7.2" fill="#222" text-anchor="end" transform="translate(285.80,322.8) rotate(-45)" stroke="#222" stroke-width="0.22">VA-13</text>
<line x1="306.50" y1="314.8" x2="306.50" y2="317.3" stroke="#222" stroke-width="0.8"/>
<text x="0" y="0" font-size="7.2" fill="#222" text-anchor="end" transform="translate(308.90,322.8) rotate(-45)" stroke="#222" stroke-width="0.22">HeLa</text>
<line x1="329.60" y1="314.8" x2="329.60" y2="317.3" stroke="#222" stroke-width="0.8"/>
<text x="0" y="0" font-size="7.2" fill="#222" text-anchor="end" transform="translate(332.00,322.8) rotate(-45)" stroke="#222" stroke-width="0.22">BP1</text>
<line x1="352.70" y1="314.8" x2="352.70" y2="317.3" stroke="#222" stroke-width="0.8"/>
<text x="0" y="0" font-size="7.2" fill="#222" text-anchor="end" transform="translate(355.10,322.8) rotate(-45)" stroke="#222" stroke-width="0.22">BM2</text>
<line x1="375.80" y1="314.8" x2="375.80" y2="317.3" stroke="#222" stroke-width="0.8"/>
<text x="0" y="0" font-size="7.2" fill="#222" text-anchor="end" transform="translate(378.20,322.8) rotate(-45)" stroke="#222" stroke-width="0.22">ALL5</text>
<line x1="398.90" y1="314.8" x2="398.90" y2="317.3" stroke="#222" stroke-width="0.8"/>
<text x="0" y="0" font-size="7.2" fill="#222" text-anchor="end" transform="translate(401.30,322.8) rotate(-45)" stroke="#222" stroke-width="0.22">AML17</text>
<line x1="422.00" y1="314.8" x2="422.00" y2="317.3" stroke="#222" stroke-width="0.8"/>
<text x="0" y="0" font-size="7.2" fill="#222" text-anchor="end" transform="translate(424.40,322.8) rotate(-45)" stroke="#222" stroke-width="0.22">AML1</text>
<line x1="445.10" y1="314.8" x2="445.10" y2="317.3" stroke="#222" stroke-width="0.8"/>
<text x="0" y="0" font-size="7.2" fill="#222" text-anchor="end" transform="translate(447.50,322.8) rotate(-45)" stroke="#222" stroke-width="0.22">TBD9</text>
<path d="M283.40,249.20 L284.00,256.00 L287.40,262.00 L290.50,267.60 L289.00,275.00 L286.90,281.00 L285.70,286.00 L286.40,291.80 L285.40,296.00 L284.40,303.00 L283.40,310.00 L283.40,310.00 L282.40,303.00 L281.40,296.00 L280.40,291.80 L281.10,286.00 L279.90,281.00 L277.80,275.00 L276.30,267.60 L279.40,262.00 L282.80,256.00 L283.40,249.20Z" fill="#4b5878" stroke="#151515" stroke-width="0.8" stroke-linejoin="round"/>
<line x1="277.20" y1="267.6" x2="289.60" y2="267.6" stroke="#d0d0d0" stroke-width="0.5" stroke-dasharray="1,1"/>
<line x1="281.40" y1="286" x2="285.40" y2="286" stroke="#d0d0d0" stroke-width="0.5" stroke-dasharray="1,1"/>
<path d="M306.50,256.10 L307.10,262.00 L307.40,264.00 L308.50,266.00 L309.70,268.00 L311.00,271.00 L312.30,275.00 L312.60,280.00 L312.50,284.00 L311.50,286.50 L310.30,289.00 L309.50,291.80 L310.50,294.00 L312.00,297.00 L312.90,300.00 L313.10,301.50 L312.80,303.50 L311.50,305.50 L309.50,307.00 L307.70,308.60 L307.00,311.00 L306.50,314.50 L306.50,314.50 L306.00,311.00 L305.30,308.60 L303.50,307.00 L301.50,305.50 L300.20,303.50 L299.90,301.50 L300.10,300.00 L301.00,297.00 L302.50,294.00 L303.50,291.80 L302.70,289.00 L301.50,286.50 L300.50,284.00 L300.40,280.00 L300.70,275.00 L302.00,271.00 L303.30,268.00 L304.50,266.00 L305.60,264.00 L305.90,262.00 L306.50,256.10Z" fill="#58287a" stroke="#151515" stroke-width="0.8" stroke-linejoin="round"/>
<line x1="302.50" y1="286" x2="310.50" y2="286" stroke="#9070a8" stroke-width="0.5" stroke-dasharray="1,1"/>
<path d="M329.60,251.50 L330.20,259.50 L332.10,261.00 L333.10,263.00 L333.60,266.00 L333.80,268.00 L334.60,270.00 L335.10,274.50 L335.90,277.00 L336.20,280.00 L335.90,288.00 L334.10,292.00 L332.10,298.00 L330.40,304.70 L329.60,310.00 L329.60,310.00 L328.80,304.70 L327.10,298.00 L325.10,292.00 L323.30,288.00 L323.00,280.00 L323.30,277.00 L324.10,274.50 L324.60,270.00 L325.40,268.00 L325.60,266.00 L326.10,263.00 L327.10,261.00 L329.00,259.50 L329.60,251.50Z" fill="#b0103a" stroke="#151515" stroke-width="0.8" stroke-linejoin="round"/>
<line x1="323.60" y1="283" x2="335.60" y2="283" stroke="#e05070" stroke-width="0.5" stroke-dasharray="1,1"/>
<path d="M352.70,254.40 L353.50,262.00 L355.20,268.00 L356.20,272.00 L357.70,275.00 L359.70,277.60 L358.20,280.00 L356.20,282.80 L355.90,288.00 L355.70,291.80 L355.90,294.00 L354.20,297.00 L353.50,299.50 L352.70,304.00 L352.70,304.00 L351.90,299.50 L351.20,297.00 L349.50,294.00 L349.70,291.80 L349.50,288.00 L349.20,282.80 L347.20,280.00 L345.70,277.60 L347.70,275.00 L349.20,272.00 L350.20,268.00 L351.90,262.00 L352.70,254.40Z" fill="#6a4a1e" stroke="#151515" stroke-width="0.8" stroke-linejoin="round"/>
<line x1="346.70" y1="277.6" x2="358.70" y2="277.6" stroke="#b09070" stroke-width="0.5" stroke-dasharray="1,1"/>
<path d="M375.80,247.10 L376.50,252.80 L378.30,254.00 L379.80,255.10 L381.60,257.00 L383.00,259.70 L383.00,264.30 L382.40,266.00 L382.40,269.50 L381.80,272.00 L381.30,275.00 L381.10,280.00 L379.80,284.00 L378.80,288.00 L377.80,296.00 L376.60,304.70 L375.80,310.00 L375.80,310.00 L375.00,304.70 L373.80,296.00 L372.80,288.00 L371.80,284.00 L370.50,280.00 L370.30,275.00 L369.80,272.00 L369.20,269.50 L369.20,266.00 L368.60,264.30 L368.60,259.70 L370.00,257.00 L371.80,255.10 L373.30,254.00 L375.10,252.80 L375.80,247.10Z" fill="#f0a020" stroke="#151515" stroke-width="0.8" stroke-linejoin="round"/>
<line x1="369.30" y1="265" x2="382.30" y2="265" stroke="#c08020" stroke-width="0.5" stroke-dasharray="1,1"/>
<path d="M398.90,254.10 L400.10,256.00 L401.90,257.50 L404.40,259.00 L406.40,261.00 L404.90,262.50 L402.40,264.00 L401.10,266.00 L400.50,268.00 L400.10,270.00 L398.90,275.70 L398.90,275.70 L397.70,270.00 L397.30,268.00 L396.70,266.00 L395.40,264.00 L392.90,262.50 L391.40,261.00 L393.40,259.00 L395.90,257.50 L397.70,256.00 L398.90,254.10Z" fill="#2a4a88" stroke="#151515" stroke-width="0.8" stroke-linejoin="round"/>
<line x1="392.40" y1="261" x2="405.40" y2="261" stroke="#8aa0c8" stroke-width="0.5" stroke-dasharray="1,1"/>
<path d="M422.00,250.30 L422.80,255.00 L426.00,257.00 L429.50,259.70 L427.00,262.00 L425.50,264.50 L426.30,270.00 L426.00,275.00 L424.50,279.00 L423.00,282.20 L422.00,292.20 L422.00,292.20 L421.00,282.20 L419.50,279.00 L418.00,275.00 L417.70,270.00 L418.50,264.50 L417.00,262.00 L414.50,259.70 L418.00,257.00 L421.20,255.00 L422.00,250.30Z" fill="#2a4a88" stroke="#151515" stroke-width="0.8" stroke-linejoin="round"/>
<line x1="415.50" y1="259.7" x2="428.50" y2="259.7" stroke="#8aa0c8" stroke-width="0.5" stroke-dasharray="1,1"/>
<path d="M445.10,252.40 L445.70,258.00 L446.60,260.00 L448.30,262.00 L449.60,264.50 L450.60,268.00 L451.60,271.00 L452.30,274.00 L452.50,275.70 L451.70,279.00 L449.80,284.30 L448.60,290.00 L447.60,294.40 L446.10,298.70 L445.10,303.00 L445.10,303.00 L444.10,298.70 L442.60,294.40 L441.60,290.00 L440.40,284.30 L438.50,279.00 L437.70,275.70 L437.90,274.00 L438.60,271.00 L439.60,268.00 L440.60,264.50 L441.90,262.00 L443.60,260.00 L444.50,258.00 L445.10,252.40Z" fill="#6cb040" stroke="#151515" stroke-width="0.8" stroke-linejoin="round"/>
<line x1="438.60" y1="275.7" x2="451.60" y2="275.7" stroke="#2a5010" stroke-width="0.5" stroke-dasharray="1,1"/>
<path d="M364.4,238.4 V243.6 M364.4,241 H431.6 M431.6,238.4 V243.6" stroke="#333" stroke-width="0.9" fill="none"/>
<text x="398" y="240.8" font-size="8.5" fill="#222" text-anchor="middle" font-weight="normal"  stroke="#222" stroke-width="0.22">**</text>
<text x="471.4" y="238.50" font-size="7.3" fill="#4a5474" text-anchor="start" font-weight="normal" stroke-width="0" stroke="none">VA-13</text>
<text x="471.4" y="250.78" font-size="7.3" fill="#62307e" text-anchor="start" font-weight="normal" stroke-width="0" stroke="none">HeLa</text>
<text x="471.4" y="263.06" font-size="7.3" fill="#a8103c" text-anchor="start" font-weight="normal" stroke-width="0" stroke="none">PB</text>
<text x="471.4" y="275.34" font-size="7.3" fill="#6a4a24" text-anchor="start" font-weight="normal" stroke-width="0" stroke="none">BM</text>
<text x="471.4" y="287.62" font-size="7.3" fill="#f0a428" text-anchor="start" font-weight="normal" stroke-width="0" stroke="none">ALL</text>
<text x="471.4" y="299.90" font-size="7.3" fill="#2c4a88" text-anchor="start" font-weight="normal" stroke-width="0" stroke="none">AML</text>
<text x="471.4" y="312.18" font-size="7.3" fill="#6cb044" text-anchor="start" font-weight="normal" stroke-width="0" stroke="none">TBD</text>
</svg></body></html>
